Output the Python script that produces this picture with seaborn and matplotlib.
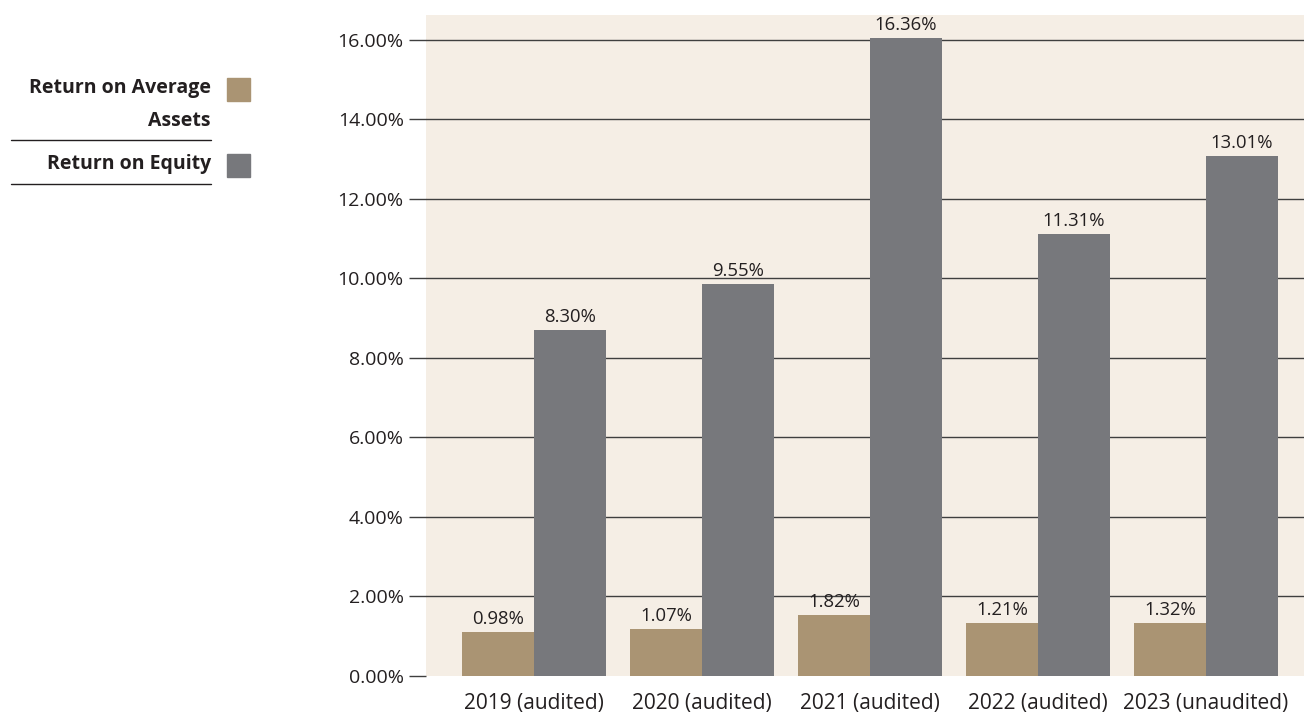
import matplotlib
matplotlib.use("Agg")
import matplotlib.pyplot as plt
import matplotlib.patches as mpatches
import seaborn as sns
import pandas as pd

# ---- data ----
categories = ["2019 (audited)", "2020 (audited)", "2021 (audited)", "2022 (audited)", "2023 (unaudited)"]
series_names = ["Return on Average\nAssets", "Return on Equity"]
# bar heights as drawn in the picture (percent)
roaa_heights = [1.11, 1.18, 1.53, 1.33, 1.33]
roe_heights = [8.70, 9.86, 16.04, 11.12, 13.08]
# printed labels
roaa_labels = ["0.98%", "1.07%", "1.82%", "1.21%", "1.32%"]
roe_labels = ["8.30%", "9.55%", "16.36%", "11.31%", "13.01%"]
y_ticks = [0, 2, 4, 6, 8, 10, 12, 14, 16]

colors = ["#AA9473", "#77787C"]
bg = "#F5EEE5"
grid_c = "#3f3f3f"
txt_c = "#231f20"

df = pd.DataFrame({
    "category": categories * 2,
    "value": roaa_heights + roe_heights,
    "series": [series_names[0]] * 5 + [series_names[1]] * 5,
})

sns.set_theme(style="white")
plt.rcParams["font.family"] = ["Open Sans", "DejaVu Sans"]

fig = plt.figure(figsize=(13.04, 7.15), dpi=100)
ax = fig.add_axes([426 / 1304, 1 - 676 / 715, 1 - 426 / 1304, (676 - 15) / 715])
ax.set_facecolor(bg)

sns.barplot(data=df, x="category", y="value", hue="series", order=categories,
            hue_order=series_names, palette=colors, width=0.857, gap=0,
            saturation=1, ax=ax, legend=False, zorder=2, linewidth=0, edgecolor="none")

ax.set_xlim(-0.643, 4.583)
ax.set_ylim(0, 16.62)
ax.set_yticks(y_ticks)
ax.set_yticklabels([f"{v:.2f}%" for v in y_ticks])
for v in y_ticks[1:]:
    ax.axhline(v, color=grid_c, lw=1.0, zorder=1)
ax.tick_params(axis="y", length=12, width=1.0, color=grid_c, pad=4, labelsize=14, labelcolor=txt_c, left=True)
ax.tick_params(axis="x", length=0, pad=12, labelsize=15, labelcolor=txt_c)
ax.set_xlabel("")
ax.set_ylabel("")
for s in ax.spines.values():
    s.set_visible(False)

for cont, labs in zip(ax.containers, [roaa_labels, roe_labels]):
    ax.bar_label(cont, labels=labs, padding=3, fontsize=13.3, color=txt_c)

# ---- custom legend on the left ----
W, H = 1304, 715
def fx(x): return x / W
def fy(y): return 1 - y / H

first_lines = series_names[0].split("\n")
fig.text(fx(211), fy(88), first_lines[0], ha="right", va="center", fontsize=14, fontweight="bold", color=txt_c)
fig.text(fx(211), fy(121), first_lines[1], ha="right", va="center", fontsize=14, fontweight="bold", color=txt_c)
fig.text(fx(211), fy(164), series_names[1], ha="right", va="center", fontsize=14, fontweight="bold", color=txt_c)
for y in (140, 184):
    fig.add_artist(plt.Line2D([fx(11), fx(211)], [fy(y), fy(y)], color=txt_c, lw=1))
for c, y0 in zip(colors, (78, 154)):
    fig.add_artist(mpatches.Rectangle((fx(227), fy(y0 + 23)), 23 / W, 23 / H, color=c, transform=fig.transFigure))

fig.savefig("out.png", dpi=100)
